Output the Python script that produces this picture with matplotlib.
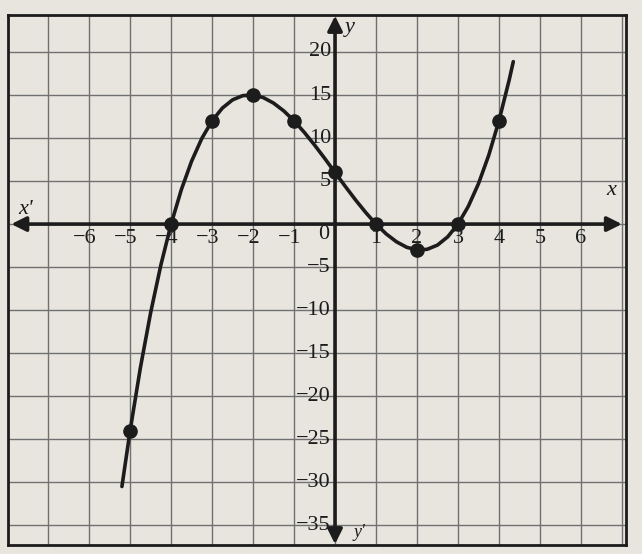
import matplotlib.pyplot as plt

# plotted points of y = f(x)
x_pts = [-5, -4, -3, -2, -1, 0, 1, 2, 3, 4]
y_pts = [-24, 0, 12, 15, 12, 6, 0, -3, 0, 12]

# smooth curve through the points, read at quarter steps
x_curve = [-5.2, -5.0, -4.75, -4.5, -4.25, -4.0, -3.75, -3.5, -3.25, -3.0,
           -2.75, -2.5, -2.25, -2.0, -1.75, -1.5, -1.25, -1.0, -0.75, -0.5,
           -0.25, 0.0, 0.25, 0.5, 0.75, 1.0, 1.25, 1.5, 1.75, 2.0,
           2.25, 2.5, 2.75, 3.0, 3.25, 3.5, 3.75, 4.0, 4.25, 4.35]
y_curve = [-30.5, -24.0, -16.71, -10.31, -4.76, 0.0, 4.01, 7.31, 9.96, 12.0,
           13.48, 14.44, 14.93, 15.0, 14.7, 14.06, 13.15, 12.0, 10.66, 9.19,
           7.62, 6.0, 4.38, 2.81, 1.34, 0.0, -1.15, -2.06, -2.7, -3.0,
           -2.93, -2.44, -1.48, 0.0, 2.04, 4.69, 7.99, 12.0, 16.76, 18.88]

x_ticks = [-6, -5, -4, -3, -2, -1, 1, 2, 3, 4, 5, 6]
y_ticks = [20, 15, 10, 5, -5, -10, -15, -20, -25, -30, -35]

paper = '#e8e5df'
ink = '#1c1c1c'
serif = ['Liberation Serif', 'DejaVu Serif']

fig = plt.figure(figsize=(6.42, 5.54), dpi=100, facecolor=paper)
ax = fig.add_axes([8 / 642, 9 / 554, 618 / 642, 530 / 554])
ax.set_facecolor(paper)
ax.set_xlim(-7.98, 7.1)
ax.set_ylim(-37.3, 24.3)

# graph paper grid
for gx in range(-7, 8):
    ax.axvline(gx, color='#707070', lw=1.0, zorder=1)
for gy in range(-35, 25, 5):
    ax.axhline(gy, color='#707070', lw=1.0, zorder=1)

for s in ax.spines.values():
    s.set_linewidth(2.0)
    s.set_color(ink)
ax.set_xticks([])
ax.set_yticks([])

# axes with arrowheads
arrow = dict(arrowstyle='<|-|>', color=ink, lw=2.6, mutation_scale=22,
             shrinkA=0, shrinkB=0)
ax.annotate('', xy=(-7.9, 0), xytext=(7.0, 0), arrowprops=arrow, zorder=3)
ax.annotate('', xy=(0, 24.2), xytext=(0, -37.2), arrowprops=arrow, zorder=3)

ax.text(-7.55, 1.7, "x'", fontsize=16, style='italic', family=serif,
        ha='center', va='center', color=ink)
ax.text(6.75, 3.9, 'x', fontsize=16, style='italic', family=serif,
        ha='center', va='center', color=ink)
ax.text(0.35, 22.9, 'y', fontsize=16, style='italic', family=serif,
        ha='center', va='center', color=ink)
ax.text(0.6, -35.8, "y'", fontsize=13, style='italic', family=serif,
        ha='center', va='center', color=ink)

for t in x_ticks:
    ax.text(t - 0.1 if t < 0 else t, -1.7, '\u2212%d' % -t if t < 0 else str(t),
            fontsize=16, family=serif, ha='center', va='center', color=ink)
ax.text(-0.28, -1.2, '0', fontsize=16, family=serif, ha='center', va='center',
        color=ink)
for t in y_ticks:
    ax.text(-0.1, t, '\u2212%d' % -t if t < 0 else str(t),
            fontsize=16, family=serif, ha='right', va='center', color=ink)

ax.plot(x_curve, y_curve, color=ink, lw=2.6, zorder=4, solid_capstyle='round')
ax.plot(x_pts, y_pts, 'o', color=ink, markersize=9.5, zorder=5)

fig.savefig('out.png', dpi=100, facecolor=paper)
